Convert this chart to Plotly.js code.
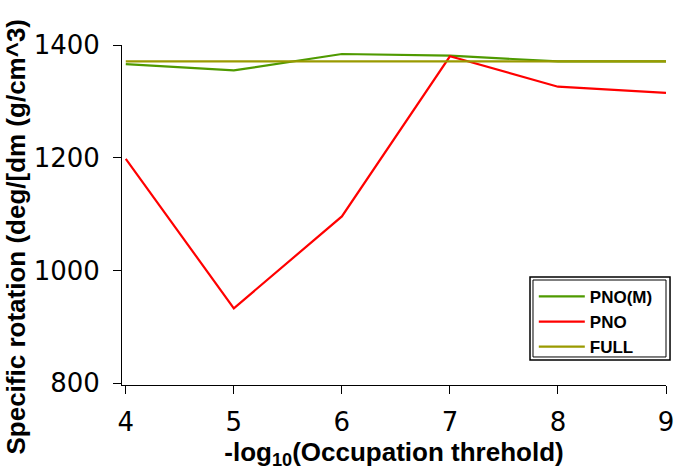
<!DOCTYPE html>
<html>
<head>
<meta charset="utf-8">
<script src="https://cdn.plot.ly/plotly-3.0.1.min.js"></script>
<style>html,body{margin:0;padding:0;background:#fff;}#chart{width:675px;height:470px;}</style>
</head>
<body>
<div id="chart"></div>
<script>
const thresholds = [4, 5, 6, 7, 8, 9];
const pnoM = [1366, 1355, 1384, 1381, 1371, 1371];
const pno = [1198, 933, 1096, 1380, 1326, 1315];
const full = [1371, 1371, 1371, 1371, 1371, 1371];
const seriesNames = ['PNO(M)', 'PNO', 'FULL'];
const xTicks = [4, 5, 6, 7, 8, 9];
const yTicks = [800, 1000, 1200, 1400];

const traces = [
  {x: thresholds, y: pnoM, name: seriesNames[0], mode: 'lines', line: {color: '#4f9a00', width: 2.2}},
  {x: thresholds, y: pno, name: seriesNames[1], mode: 'lines', line: {color: '#ff0000', width: 2.2}},
  {x: thresholds, y: full, name: seriesNames[2], mode: 'lines', line: {color: '#9a9a00', width: 2.2}}
];

const boldFont = 'Liberation Sans, Arial, sans-serif';
const layout = {
  width: 675, height: 470,
  margin: {l: 122, r: 9, t: 45, b: 85},
  paper_bgcolor: '#fff', plot_bgcolor: '#fff',
  showlegend: true,
  legend: {
    x: 0.757, y: 0.312, xanchor: 'left', yanchor: 'top',
    bgcolor: 'rgba(255,255,255,0)', borderwidth: 0,
    font: {family: boldFont, size: 17, color: '#000', weight: 'bold'},
    tracegroupgap: 0, itemwidth: 46
  },
  xaxis: {
    range: [3.965, 9.0], tickvals: xTicks, ticktext: xTicks.map(String),
    showgrid: false, zeroline: false, showline: true, linecolor: '#000', linewidth: 1,
    ticks: 'outside', ticklen: 8, tickcolor: '#000', tickwidth: 1, ticklabelstandoff: 6,
    tickfont: {family: 'DejaVu Sans, sans-serif', size: 26, color: '#000'},
    title: {text: '-log<sub>10</sub>(Occupation threhold)', font: {family: boldFont, size: 26, color: '#000', weight: 'bold'}, standoff: 4}
  },
  yaxis: {
    range: [797, 1400], tickvals: yTicks, ticktext: yTicks.map(String),
    showgrid: false, zeroline: false, showline: true, linecolor: '#000', linewidth: 1,
    ticks: 'outside', ticklen: 8, tickcolor: '#000', tickwidth: 1, ticklabelstandoff: 8,
    tickfont: {family: 'DejaVu Sans, sans-serif', size: 26, color: '#000'}
  },
  shapes: [
    {type: 'rect', xref: 'paper', yref: 'paper', x0: 0.75, x1: 1.0074, y0: 0.0735, y1: 0.3176, line: {color: '#000', width: 1.5}, fillcolor: 'rgba(0,0,0,0)'},
    {type: 'rect', xref: 'paper', yref: 'paper', x0: 0.7555, x1: 1.0, y0: 0.0824, y1: 0.3088, line: {color: '#000', width: 1}, fillcolor: 'rgba(0,0,0,0)'}
  ],
  annotations: [{
    text: 'Specific rotation (deg/[dm (g/cm^3)',
    xref: 'paper', yref: 'paper', x: -0.194, y: 0.438, xanchor: 'center', yanchor: 'middle',
    textangle: -90, showarrow: false,
    font: {family: boldFont, size: 26, color: '#000', weight: 'bold'}
  }]
};

Plotly.newPlot('chart', traces, layout, {displayModeBar: false, staticPlot: true});
</script>
</body>
</html>
